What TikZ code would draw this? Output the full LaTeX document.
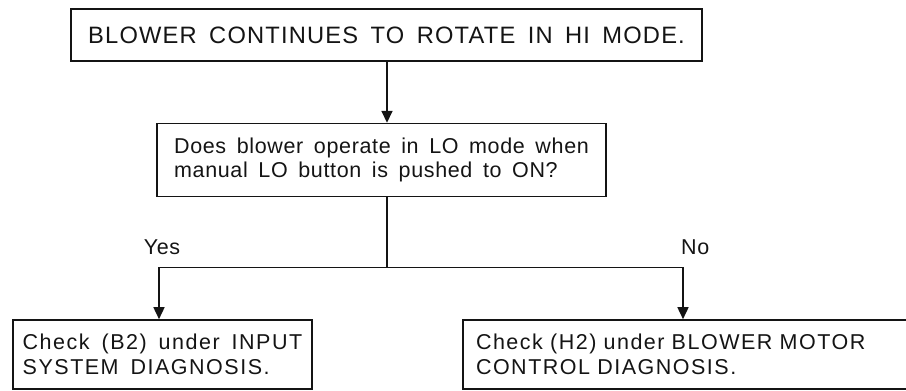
\documentclass[tikz,border=0pt]{standalone}
\usepackage{fontspec}
\newfontfamily\chartfont{Liberation Sans}[LetterSpace=3,WordSpace=1.6]
\newfontfamily\widefont{Liberation Sans}[LetterSpace=7,WordSpace=1.6]
\newfontfamily\headfont{Liberation Sans}[LetterSpace=5,WordSpace=1.6]
\definecolor{ink}{RGB}{20,20,20}
\usetikzlibrary{arrows.meta,positioning}
\tikzset{
  chart/.style={draw=ink, line width=1.6pt, inner sep=0pt, align=left, text=ink,
                font=\chartfont\fontsize{21.5}{24}\selectfont},
  result/.style={chart, minimum height=69pt, font=\widefont\fontsize{21.5}{25.5}\selectfont},
  wire/.style={ink, line width=1.6pt},
  flow/.style={-{Triangle[length=12pt,width=11pt]}, ink, line width=1.6pt},
  tag/.style={text=ink, inner sep=0pt, anchor=base, font=\chartfont\fontsize{21.5}{24}\selectfont},
}

\begin{document}
\begin{tikzpicture}[x=1pt, y=1pt, node distance=61pt]
  \useasboundingbox (0,0) rectangle (906,391);
  \node[chart, minimum width=631pt, minimum height=52pt,
        font=\headfont\fontsize{23.7}{26}\selectfont] (hi) at (386.5,356)
        {BLOWER CONTINUES TO ROTATE IN HI MODE.};
  \node[chart, minimum width=449pt, minimum height=73pt, below=of hi, xshift=-5pt] (lo)
        {Does blower operate in LO mode when\\manual LO button is pushed to ON?};
  \coordinate[below=70pt of lo.south, xshift=5.5pt] (split);
  \node[result, minimum width=299pt] (yes) at (162.5,36.5)
        {Check (B2) under INPUT\\SYSTEM DIAGNOSIS.};
  \node[result, text width=423pt, inner xsep=13pt] (no) at (687.5,36.5)
        {Check (H2) under BLOWER MOTOR\\CONTROL DIAGNOSIS.};
  \draw[flow] (hi.south -| split) -- (lo.north -| split);
  \draw[wire] (lo.south -| split) -- (split);
  \draw[flow] (split) -| ([xshift=-3.5pt]yes.north);
  \draw[flow] (split) -| ([xshift=-4.5pt]no.north);
  \node[tag] (yestag) at (162,136) {Yes};
  \node[tag, anchor=base west] (notag) at (681,136) {No};
\end{tikzpicture}
\end{document}
